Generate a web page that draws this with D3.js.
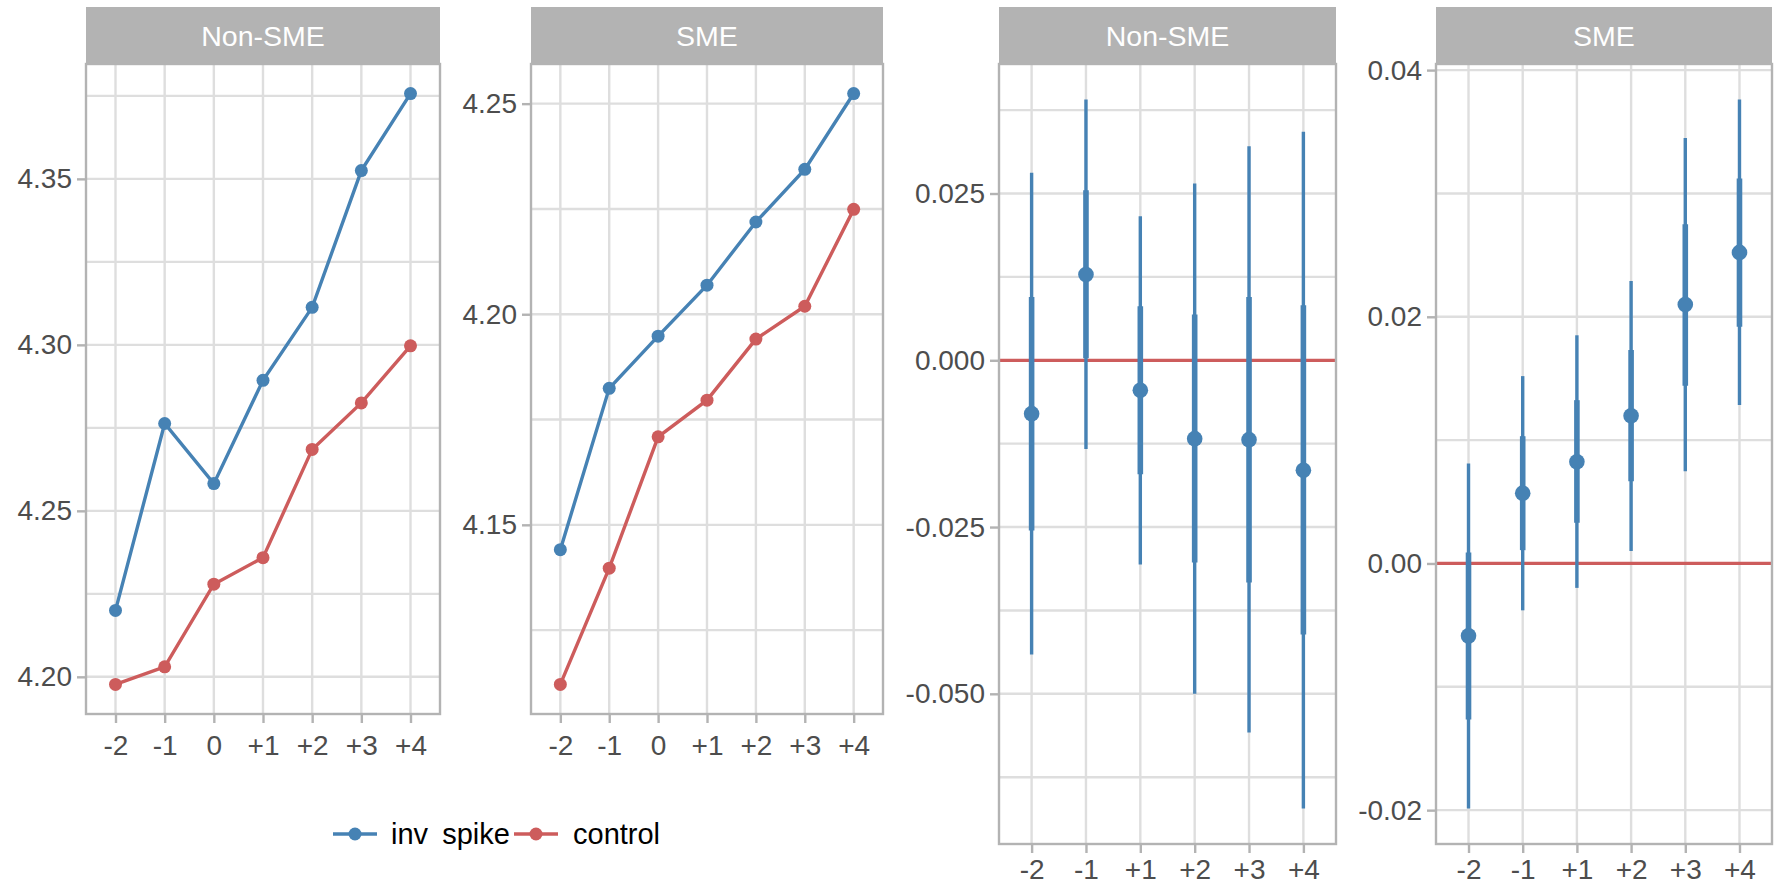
<!DOCTYPE html>
<html>
<head>
<meta charset="utf-8">
<script src="https://cdn.jsdelivr.net/npm/d3@7"></script>
<style>
  html, body { margin: 0; padding: 0; background: #fff; }
  svg { display: block; font-family: "Liberation Sans", Arial, Helvetica, sans-serif; }
</style>
</head>
<body>
<svg id="chart" width="1779" height="886"></svg>
<script>
// ---------------- DATA ----------------
const periodsLeft = ["-2", "-1", "0", "+1", "+2", "+3", "+4"];
const periodsRight = ["-2", "-1", "+1", "+2", "+3", "+4"];
const facetNames = ["Non-SME", "SME"];
const seriesNames = ["inv spike", "control"];

// Left block: group means
const nonSmeInvSpike = [4.2200, 4.2763, 4.2582, 4.2893, 4.3113, 4.3525, 4.3757];
const nonSmeControl  = [4.1977, 4.2030, 4.2279, 4.2359, 4.2685, 4.2825, 4.2997];
const smeInvSpike    = [4.1441, 4.1824, 4.1948, 4.2069, 4.2219, 4.2344, 4.2524];
const smeControl     = [4.1121, 4.1397, 4.1709, 4.1796, 4.1941, 4.2019, 4.2249];

// Right block: coefficient estimates with inner (thick) and outer (thin) intervals
const nonSmeEst    = [-0.0080, 0.01285, -0.0045, -0.01175, -0.0119, -0.0165];
const nonSmeLoOut  = [-0.0441, -0.0133, -0.0306, -0.0500, -0.0558, -0.0672];
const nonSmeHiOut  = [0.0281, 0.0391, 0.0216, 0.0265, 0.0321, 0.03425];
const nonSmeLoIn   = [-0.0255, 0.0003, -0.0171, -0.0303, -0.0333, -0.0411];
const nonSmeHiIn   = [0.0095, 0.0255, 0.0081, 0.00685, 0.0095, 0.00825];

const smeEst    = [-0.00587, 0.0057, 0.00824, 0.01197, 0.0210, 0.02522];
const smeLoOut  = [-0.01987, -0.0038, -0.00198, 0.00102, 0.00748, 0.01284];
const smeHiOut  = [0.0081, 0.01519, 0.0185, 0.0229, 0.0345, 0.03762];
const smeLoIn   = [-0.01265, 0.00108, 0.0033, 0.00667, 0.0144, 0.01919];
const smeHiIn   = [0.00089, 0.01032, 0.01324, 0.0173, 0.02751, 0.03122];

// Tick values / labels
const ticksP1 = [4.20, 4.25, 4.30, 4.35];
const labelsP1 = ["4.20", "4.25", "4.30", "4.35"];
const minorP1 = [4.225, 4.275, 4.325, 4.375];
const ticksP2 = [4.15, 4.20, 4.25];
const labelsP2 = ["4.15", "4.20", "4.25"];
const minorP2 = [4.125, 4.175, 4.225];
const ticksP3 = [-0.050, -0.025, 0.000, 0.025];
const labelsP3 = ["-0.050", "-0.025", "0.000", "0.025"];
const minorP3 = [-0.0625, -0.0375, -0.0125, 0.0125, 0.0375];
const ticksP4 = [-0.02, 0.00, 0.02, 0.04];
const labelsP4 = ["-0.02", "0.00", "0.02", "0.04"];
const minorP4 = [-0.01, 0.01, 0.03];
const refLine = 0;

// ---------------- STYLE ----------------
const BLUE = "#4682B4", RED = "#CD5C5C";
const GRID = "#DEDEDE", BORDER = "#B3B3B3", STRIP = "#B3B3B3";
const AXIS_TXT = "#4D4D4D";
const FONT = "'Liberation Sans', Arial, Helvetica, sans-serif";

const svg = d3.select("#chart");

function expandDomain(vals) {
  const lo = d3.min(vals), hi = d3.max(vals), pad = (hi - lo) * 0.05;
  return [lo - pad, hi + pad];
}

function panel(cfg) {
  const { x0, x1, y0, y1, cats, domain, ticks, labels, minor, title, xPad } = cfg;
  const g = svg.append("g");
  const x = d3.scalePoint().domain(cats).range([x0, x1]).padding(0.6);
  const y = d3.scaleLinear().domain(domain).range([y1, y0]);

  // strip
  g.append("rect").attr("x", x0).attr("y", 7).attr("width", x1 - x0).attr("height", y0 - 7)
    .attr("fill", STRIP);
  g.append("text").attr("x", (x0 + x1) / 2).attr("y", (7 + y0) / 2).attr("dy", "0.36em")
    .attr("text-anchor", "middle").attr("fill", "#fff").attr("font-size", 28.5).text(title);

  // grid
  const grid = g.append("g").attr("stroke", GRID).attr("stroke-width", 2.4);
  grid.selectAll(".hmin").data(minor).join("line")
    .attr("x1", x0).attr("x2", x1).attr("y1", d => y(d)).attr("y2", d => y(d));
  grid.selectAll(".hmaj").data(ticks).join("line")
    .attr("x1", x0).attr("x2", x1).attr("y1", d => y(d)).attr("y2", d => y(d));
  grid.selectAll(".v").data(cats).join("line")
    .attr("x1", d => x(d)).attr("x2", d => x(d)).attr("y1", y0).attr("y2", y1);

  // y axis
  const yAxis = d3.axisLeft(y).tickValues(ticks).tickFormat((d, i) => labels[i])
    .tickSizeOuter(0).tickSizeInner(9).tickPadding(5);
  const ya = g.append("g").attr("transform", `translate(${x0},0)`).call(yAxis);
  ya.select(".domain").remove();
  ya.selectAll(".tick line").attr("stroke", BORDER).attr("stroke-width", 2.4);
  ya.selectAll(".tick text").attr("fill", AXIS_TXT).attr("font-size", 28).attr("font-family", FONT);

  // x axis
  const xAxis = d3.axisBottom(x).tickSizeOuter(0).tickSizeInner(9).tickPadding(xPad);
  const xa = g.append("g").attr("transform", `translate(0,${y1})`).call(xAxis);
  xa.select(".domain").remove();
  xa.selectAll(".tick line").attr("stroke", BORDER).attr("stroke-width", 2.4);
  xa.selectAll(".tick text").attr("fill", AXIS_TXT).attr("font-size", 28).attr("font-family", FONT);

  const data = g.append("g");
  const finish = () => g.append("rect").attr("x", x0).attr("y", y0)
    .attr("width", x1 - x0).attr("height", y1 - y0)
    .attr("fill", "none").attr("stroke", BORDER).attr("stroke-width", 2.4);
  return { x, y, data, finish };
}

function linePanel(cfg, a, b) {
  const p = panel(cfg);
  const series = [[a, BLUE], [b, RED]];
  series.forEach(([vals, col]) => {
    const pts = cfg.cats.map((c, i) => [p.x(c), p.y(vals[i])]);
    p.data.append("path").attr("d", d3.line()(pts)).attr("fill", "none")
      .attr("stroke", col).attr("stroke-width", 3.4);
  });
  series.forEach(([vals, col]) => {
    p.data.selectAll(null).data(vals).join("circle")
      .attr("cx", (d, i) => p.x(cfg.cats[i])).attr("cy", d => p.y(d)).attr("r", 6.5)
      .attr("fill", col);
  });
  p.finish();
}

function coefPanel(cfg, est, loO, hiO, loI, hiI) {
  const p = panel(cfg);
  p.data.append("line").attr("x1", cfg.x0).attr("x2", cfg.x1)
    .attr("y1", p.y(refLine)).attr("y2", p.y(refLine))
    .attr("stroke", RED).attr("stroke-width", 3.2);
  const cats = cfg.cats;
  p.data.selectAll(null).data(cats).join("line")
    .attr("x1", d => p.x(d)).attr("x2", d => p.x(d))
    .attr("y1", (d, i) => p.y(loO[i])).attr("y2", (d, i) => p.y(hiO[i]))
    .attr("stroke", BLUE).attr("stroke-width", 3.4);
  p.data.selectAll(null).data(cats).join("line")
    .attr("x1", d => p.x(d)).attr("x2", d => p.x(d))
    .attr("y1", (d, i) => p.y(loI[i])).attr("y2", (d, i) => p.y(hiI[i]))
    .attr("stroke", BLUE).attr("stroke-width", 5.6);
  p.data.selectAll(null).data(cats).join("circle")
    .attr("cx", d => p.x(d)).attr("cy", (d, i) => p.y(est[i])).attr("r", 7.8)
    .attr("fill", BLUE);
  p.finish();
}

linePanel({ x0: 86, x1: 440, y0: 64, y1: 714, cats: periodsLeft, xPad: 12,
  domain: expandDomain(nonSmeInvSpike.concat(nonSmeControl)),
  ticks: ticksP1, labels: labelsP1, minor: minorP1, title: facetNames[0] },
  nonSmeInvSpike, nonSmeControl);

linePanel({ x0: 531, x1: 883, y0: 64, y1: 714, cats: periodsLeft, xPad: 12,
  domain: expandDomain(smeInvSpike.concat(smeControl)),
  ticks: ticksP2, labels: labelsP2, minor: minorP2, title: facetNames[1] },
  smeInvSpike, smeControl);

coefPanel({ x0: 999, x1: 1336, y0: 64, y1: 844, cats: periodsRight, xPad: 6,
  domain: expandDomain(nonSmeLoOut.concat(nonSmeHiOut, [refLine])),
  ticks: ticksP3, labels: labelsP3, minor: minorP3, title: facetNames[0] },
  nonSmeEst, nonSmeLoOut, nonSmeHiOut, nonSmeLoIn, nonSmeHiIn);

coefPanel({ x0: 1436, x1: 1772, y0: 64, y1: 844, cats: periodsRight, xPad: 6,
  domain: expandDomain(smeLoOut.concat(smeHiOut, [refLine])),
  ticks: ticksP4, labels: labelsP4, minor: minorP4, title: facetNames[1] },
  smeEst, smeLoOut, smeHiOut, smeLoIn, smeHiIn);

// ---------------- LEGEND ----------------
const legend = svg.append("g").attr("transform", "translate(0,834)");
const legendItems = [
  { name: seriesNames[0], col: BLUE, kx: 333, tx: 391 },
  { name: seriesNames[1], col: RED, kx: 514, tx: 573 }
];
legendItems.forEach(it => {
  legend.append("line").attr("x1", it.kx).attr("x2", it.kx + 44).attr("y1", 0).attr("y2", 0)
    .attr("stroke", it.col).attr("stroke-width", 3.4);
  legend.append("circle").attr("cx", it.kx + 22).attr("cy", 0).attr("r", 6.5).attr("fill", it.col);
  legend.append("text").attr("x", it.tx).attr("y", 0).attr("dy", "0.36em")
    .attr("font-size", 29).attr("fill", "#000").attr("word-spacing", 6).text(it.name);
});
</script>
</body>
</html>
